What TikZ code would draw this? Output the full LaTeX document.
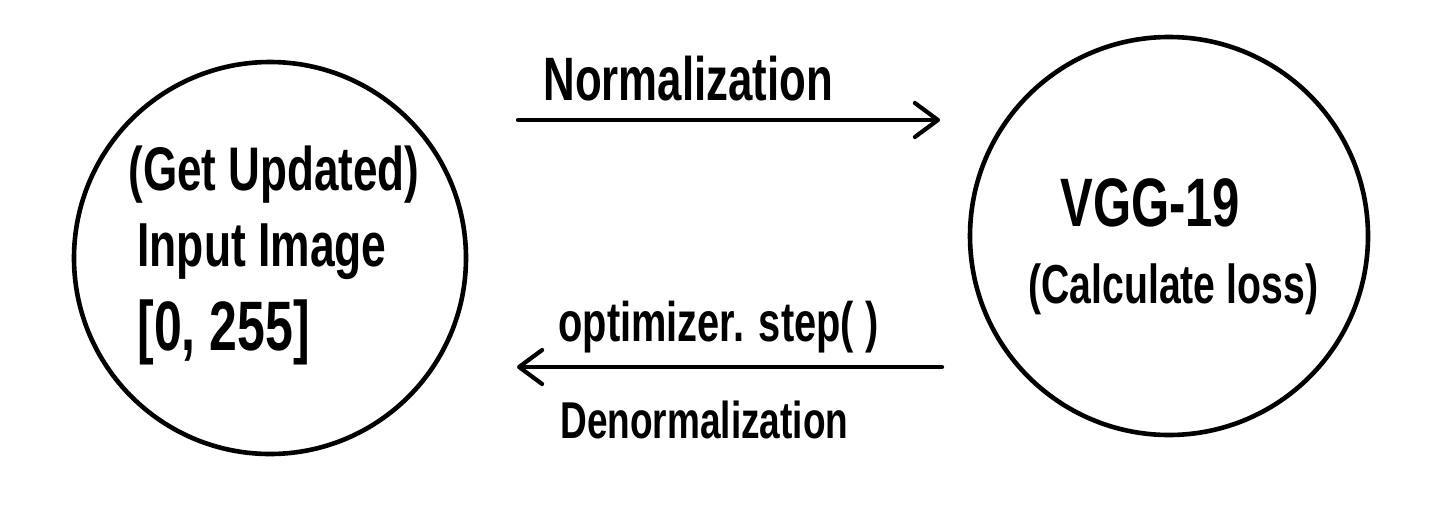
\documentclass[tikz,border=0pt]{standalone}
\usepackage{fontspec}
\setmainfont{Liberation Sans}
\usetikzlibrary{arrows.meta}
\newcommand{\handtext}[1]{\scalebox{1}[1.4]{#1}}
\tikzset{
  bubble/.style={circle, draw=black, line width=2.3pt, inner sep=0pt},
  label text/.style={inner sep=0pt, anchor=west, text=black},
  flow/.style={line width=2.1pt, line cap=round, -{Straight Barb[length=11.5pt,width=17pt,round]}}
}
\begin{document}
\begin{tikzpicture}[x=0.5pt,y=-0.5pt,every node/.append style={font=\bfseries}]
\useasboundingbox[fill=white] (0,0) rectangle (1440,509);
% circles
\node[bubble, minimum size=196pt] (L) at (270,258) {};
\node[bubble, minimum size=199pt] (R) at (1169,236) {};
% texts in left circle
\node[label text, font=\bfseries\fontsize{22}{26}\selectfont] (t1) at (128,175) {\handtext{(Get Updated)}};
\node[label text, font=\bfseries\fontsize{22.2}{26}\selectfont] (t2) at (137,252) {\handtext{Input Image}};
\node[label text, font=\bfseries\fontsize{25}{30}\selectfont] (t3) at (137,332) {\handtext{[0, 255]}};
% texts in right circle
\node[label text, font=\bfseries\fontsize{24.5}{29}\selectfont] (v1) at (1060,203) {\handtext{VGG-19}};
\node[label text, font=\bfseries\fontsize{19.6}{24}\selectfont] (v2) at (1028,289) {\handtext{(Calculate loss)}};
% arrows
\coordinate (a1) at (518,120);
\coordinate (a2) at (940,120);
\coordinate (b1) at (942,367);
\coordinate (b2) at (517,367);
\draw[flow] (a1) -- (a2);
\draw[flow] (b1) -- (b2);
% arrow labels
\node[label text, font=\bfseries\fontsize{21.9}{26}\selectfont] (n1) at (543,79) {\handtext{Normalization}};
\node[label text, font=\bfseries\fontsize{19.9}{24}\selectfont] (n2) at (558,327) {\handtext{optimizer. step( )}};
\node[label text, font=\bfseries\fontsize{18.5}{22}\selectfont] (n3) at (560,420) {\handtext{Denormalization}};
\end{tikzpicture}
\end{document}
